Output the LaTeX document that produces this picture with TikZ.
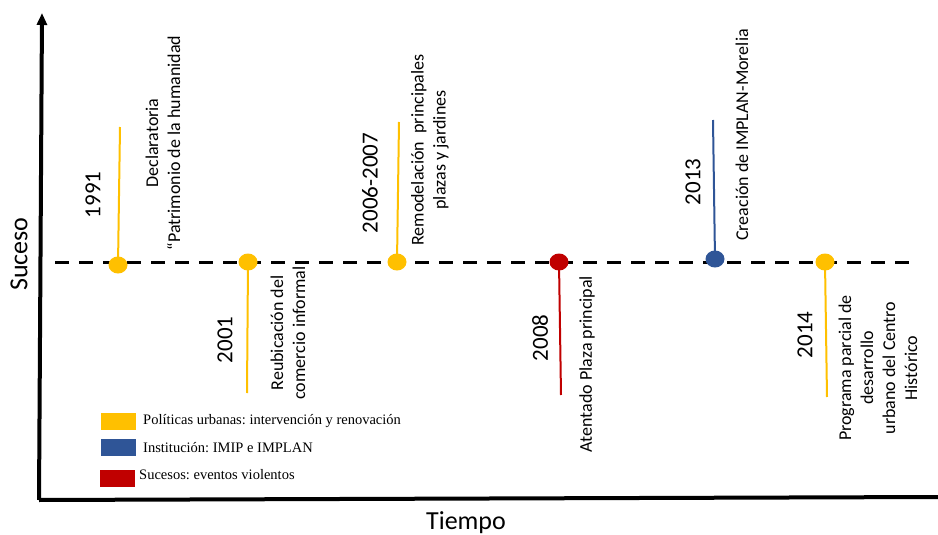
\documentclass[tikz,border=0pt]{standalone}
\usepackage{fontspec}
\setmainfont{Carlito}
\newfontfamily\leyendafont{Liberation Serif}
\usetikzlibrary{shapes.geometric, arrows.meta}

\definecolor{amarillo}{HTML}{FFC000}
\definecolor{azul}{HTML}{2F5597}
\definecolor{rojo}{HTML}{C00000}

\frenchspacing

\begin{document}
\begin{tikzpicture}[x=1pt, y=-1pt, line join=round,
  punto/.style={ellipse, fill=#1, inner sep=0pt, minimum width=19pt, minimum height=17pt},
  tallo/.style={draw=#1, line width=2pt},
  anio/.style={rotate=90, inner sep=0pt, font=\fontsize{23}{27}\selectfont},
  rotulo/.style={rotate=90, align=center, inner sep=0pt, font=\fontsize{18}{22}\selectfont},
  caja/.style={fill=#1, inner sep=0pt, minimum width=35pt, minimum height=17pt},
  leyenda/.style={anchor=west, inner sep=0pt, font=\leyendafont\fontsize{14.5}{16}\selectfont}]

  %% ════ ejes ════
  \coordinate (origen) at (39,500);
  \coordinate (arriba) at (42,13);
  \coordinate (derecha) at (938,497);
  \draw[line width=4pt, -{Triangle[length=12pt, width=10pt]}] (origen) -- (arriba);
  \draw[line width=4pt] (origen) -- (derecha);
  \node[rotate=90, font=\fontsize{26}{30}\selectfont] (suceso) at (19,254) {Suceso};
  \node[font=\fontsize{26}{30}\selectfont] (tiempo) at (466,523) {Tiempo};

  %% ════ línea de tiempo ════
  \coordinate (inicio) at (55,262);
  \coordinate (fin) at (910,262);
  \draw[line width=3pt, dash pattern=on 14pt off 10pt] (inicio) -- (fin);

  %% ════ tallos ════
  \coordinate (p1991) at (118,265);  \coordinate (s1991) at (120,127);
  \coordinate (p2001) at (248,262);  \coordinate (s2001) at (247,393);
  \coordinate (p2006) at (397,262);  \coordinate (s2006) at (399,122);
  \coordinate (p2008) at (559,262);  \coordinate (s2008) at (561,395);
  \coordinate (p2013) at (715,259);  \coordinate (s2013) at (713,120);
  \coordinate (p2014) at (825,262);  \coordinate (s2014) at (827,397);
  \draw[tallo=amarillo] (p1991) -- (s1991);
  \draw[tallo=amarillo] (p2001) -- (s2001);
  \draw[tallo=amarillo] (p2006) -- (s2006);
  \draw[tallo=rojo] (p2008) -- (s2008);
  \draw[tallo=azul] (p2013) -- (s2013);
  \draw[tallo=amarillo] (p2014) -- (s2014);

  %% ════ puntos ════
  \node[punto=amarillo] (d1991) at (p1991) {};
  \node[punto=amarillo] (d2001) at (p2001) {};
  \node[punto=amarillo] (d2006) at (p2006) {};
  \node[punto=rojo] (d2008) at (p2008) {};
  \node[punto=azul] (d2013) at (p2013) {};
  \node[punto=amarillo] (d2014) at (p2014) {};

  %% ════ años ════
  \node[anio] (a1991) at (93,195) {1991};
  \node[anio] (a2001) at (225,340) {2001};
  \node[anio] (a2006) at (370,183) {2006-2007};
  \node[anio] (a2008) at (540,338) {2008};
  \node[anio] (a2013) at (693,182) {2013};
  \node[anio] (a2014) at (805,335) {2014};

  %% ════ sucesos ════
  \node[rotulo] (r1991) at (163,143) {Declaratoria\\“Patrimonio de la humanidad};
  \node[rotulo] (r2001) at (288,333) {Reubicación del\\comercio informal};
  \node[rotulo] (r2006) at (430,150) {Remodelación~ principales\\plazas y jardines};
  \node[rotulo] (r2008) at (587,364) {Atentado Plaza principal};
  \node[rotulo] (r2013) at (742,135) {Creación de IMPLAN-Morelia};
  \node[rotulo] (r2014) at (878,368) {Programa parcial de\\desarrollo\\urbano del Centro\\Histórico};

  %% ════ leyenda ════
  \node[caja=amarillo] (c1) at (118,421) {};
  \node[caja=azul] (c2) at (118,447) {};
  \node[caja=rojo] (c3) at (117,478) {};
  \node[leyenda] (t1) at (143,421) {Políticas urbanas: intervención y renovación};
  \node[leyenda] (t2) at (143,448) {Institución: IMIP e IMPLAN};
  \node[leyenda] (t3) at (139,475) {Sucesos: eventos violentos};

  \pgfresetboundingbox
  \path[use as bounding box] (0,0) rectangle (938,535);
\end{tikzpicture}
\end{document}
